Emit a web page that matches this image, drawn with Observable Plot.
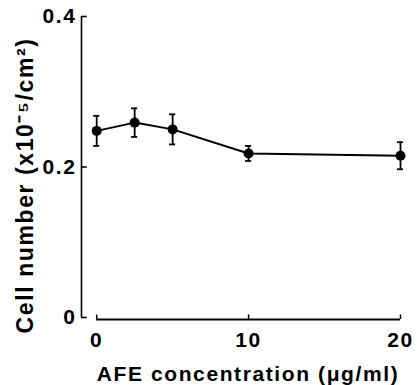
<!DOCTYPE html>
<html><head><meta charset="utf-8">
<script src="https://cdn.jsdelivr.net/npm/d3@7"></script>
<script src="https://cdn.jsdelivr.net/npm/@observablehq/plot@0.6"></script>
<style>body{margin:0;background:#fff}</style>
</head><body><div id="chart"></div>
<script>
const concentration = [0, 2.5, 5, 10, 20];
const cellNumber = [0.248, 0.259, 0.250, 0.218, 0.215];
const errorBar = [0.020, 0.019, 0.020, 0.010, 0.018];
const xTicks = [0, 10, 20];
const yTicks = [0, 0.2, 0.4];
const xLabel = "AFE concentration (μg/ml)";
const yLabel = "Cell number (x10⁻⁵/cm²)";

const data = concentration.map((x, i) => ({
  x, y: cellNumber[i], lo: cellNumber[i] - errorBar[i], hi: cellNumber[i] + errorBar[i]
}));
const capHalf = 0.2;

const chart = Plot.plot({
  width: 417, height: 385,
  marginLeft: 81, marginRight: 17, marginTop: 16, marginBottom: 68,
  style: {fontFamily: "'Liberation Sans', Arial, sans-serif", fontSize: "20px", fontWeight: "bold", letterSpacing: "1.6px", background: "#fff", color: "#000"},
  x: {domain: [-1, 20], axis: null},
  y: {domain: [0, 0.4], axis: null},
  marks: [
    Plot.ruleX([-1], {y1: 0, y2: 0.4, strokeWidth: 1.6}),
    Plot.ruleY(yTicks, {x1: -1, x2: -0.62, strokeWidth: 1.6}),
    Plot.ruleY([0], {x1: 0, x2: 20, strokeWidth: 2, dy: 2}),
    Plot.ruleX(xTicks, {y1: 0, y2: 0.006, strokeWidth: 1.5, dy: 2}),
    Plot.axisX(xTicks, {tickSize: 0, tickPadding: 15, label: null, fontSize: 21, fontWeight: "bold"}),
    Plot.axisY(yTicks, {tickSize: 0, tickPadding: 5, label: null, fontSize: 21, fontWeight: "bold", tickFormat: d => d === 0 ? "0" : d.toFixed(1)}),
    Plot.text([xLabel], {frameAnchor: "bottom", textAnchor: "middle", lineAnchor: "middle", dx: 7, dy: 56.6, fontSize: 21, fontWeight: "bold"}),
    Plot.text([yLabel], {frameAnchor: "left", textAnchor: "middle", lineAnchor: "middle", rotate: -90, dx: -56, dy: 18.5, fontSize: 23, fontWeight: "bold"}),
    Plot.line(data, {x: "x", y: "y", strokeWidth: 2}),
    Plot.ruleX(data, {x: "x", y1: "lo", y2: "hi", strokeWidth: 1.8}),
    Plot.ruleY(data, {y: "hi", x1: d => d.x - capHalf, x2: d => d.x + capHalf, strokeWidth: 1.8}),
    Plot.ruleY(data, {y: "lo", x1: d => d.x - capHalf, x2: d => d.x + capHalf, strokeWidth: 1.8}),
    Plot.dot(data, {x: "x", y: "y", r: 5, fill: "#000", stroke: "none"})
  ]
});
document.getElementById("chart").appendChild(chart);
</script>
</body></html>
